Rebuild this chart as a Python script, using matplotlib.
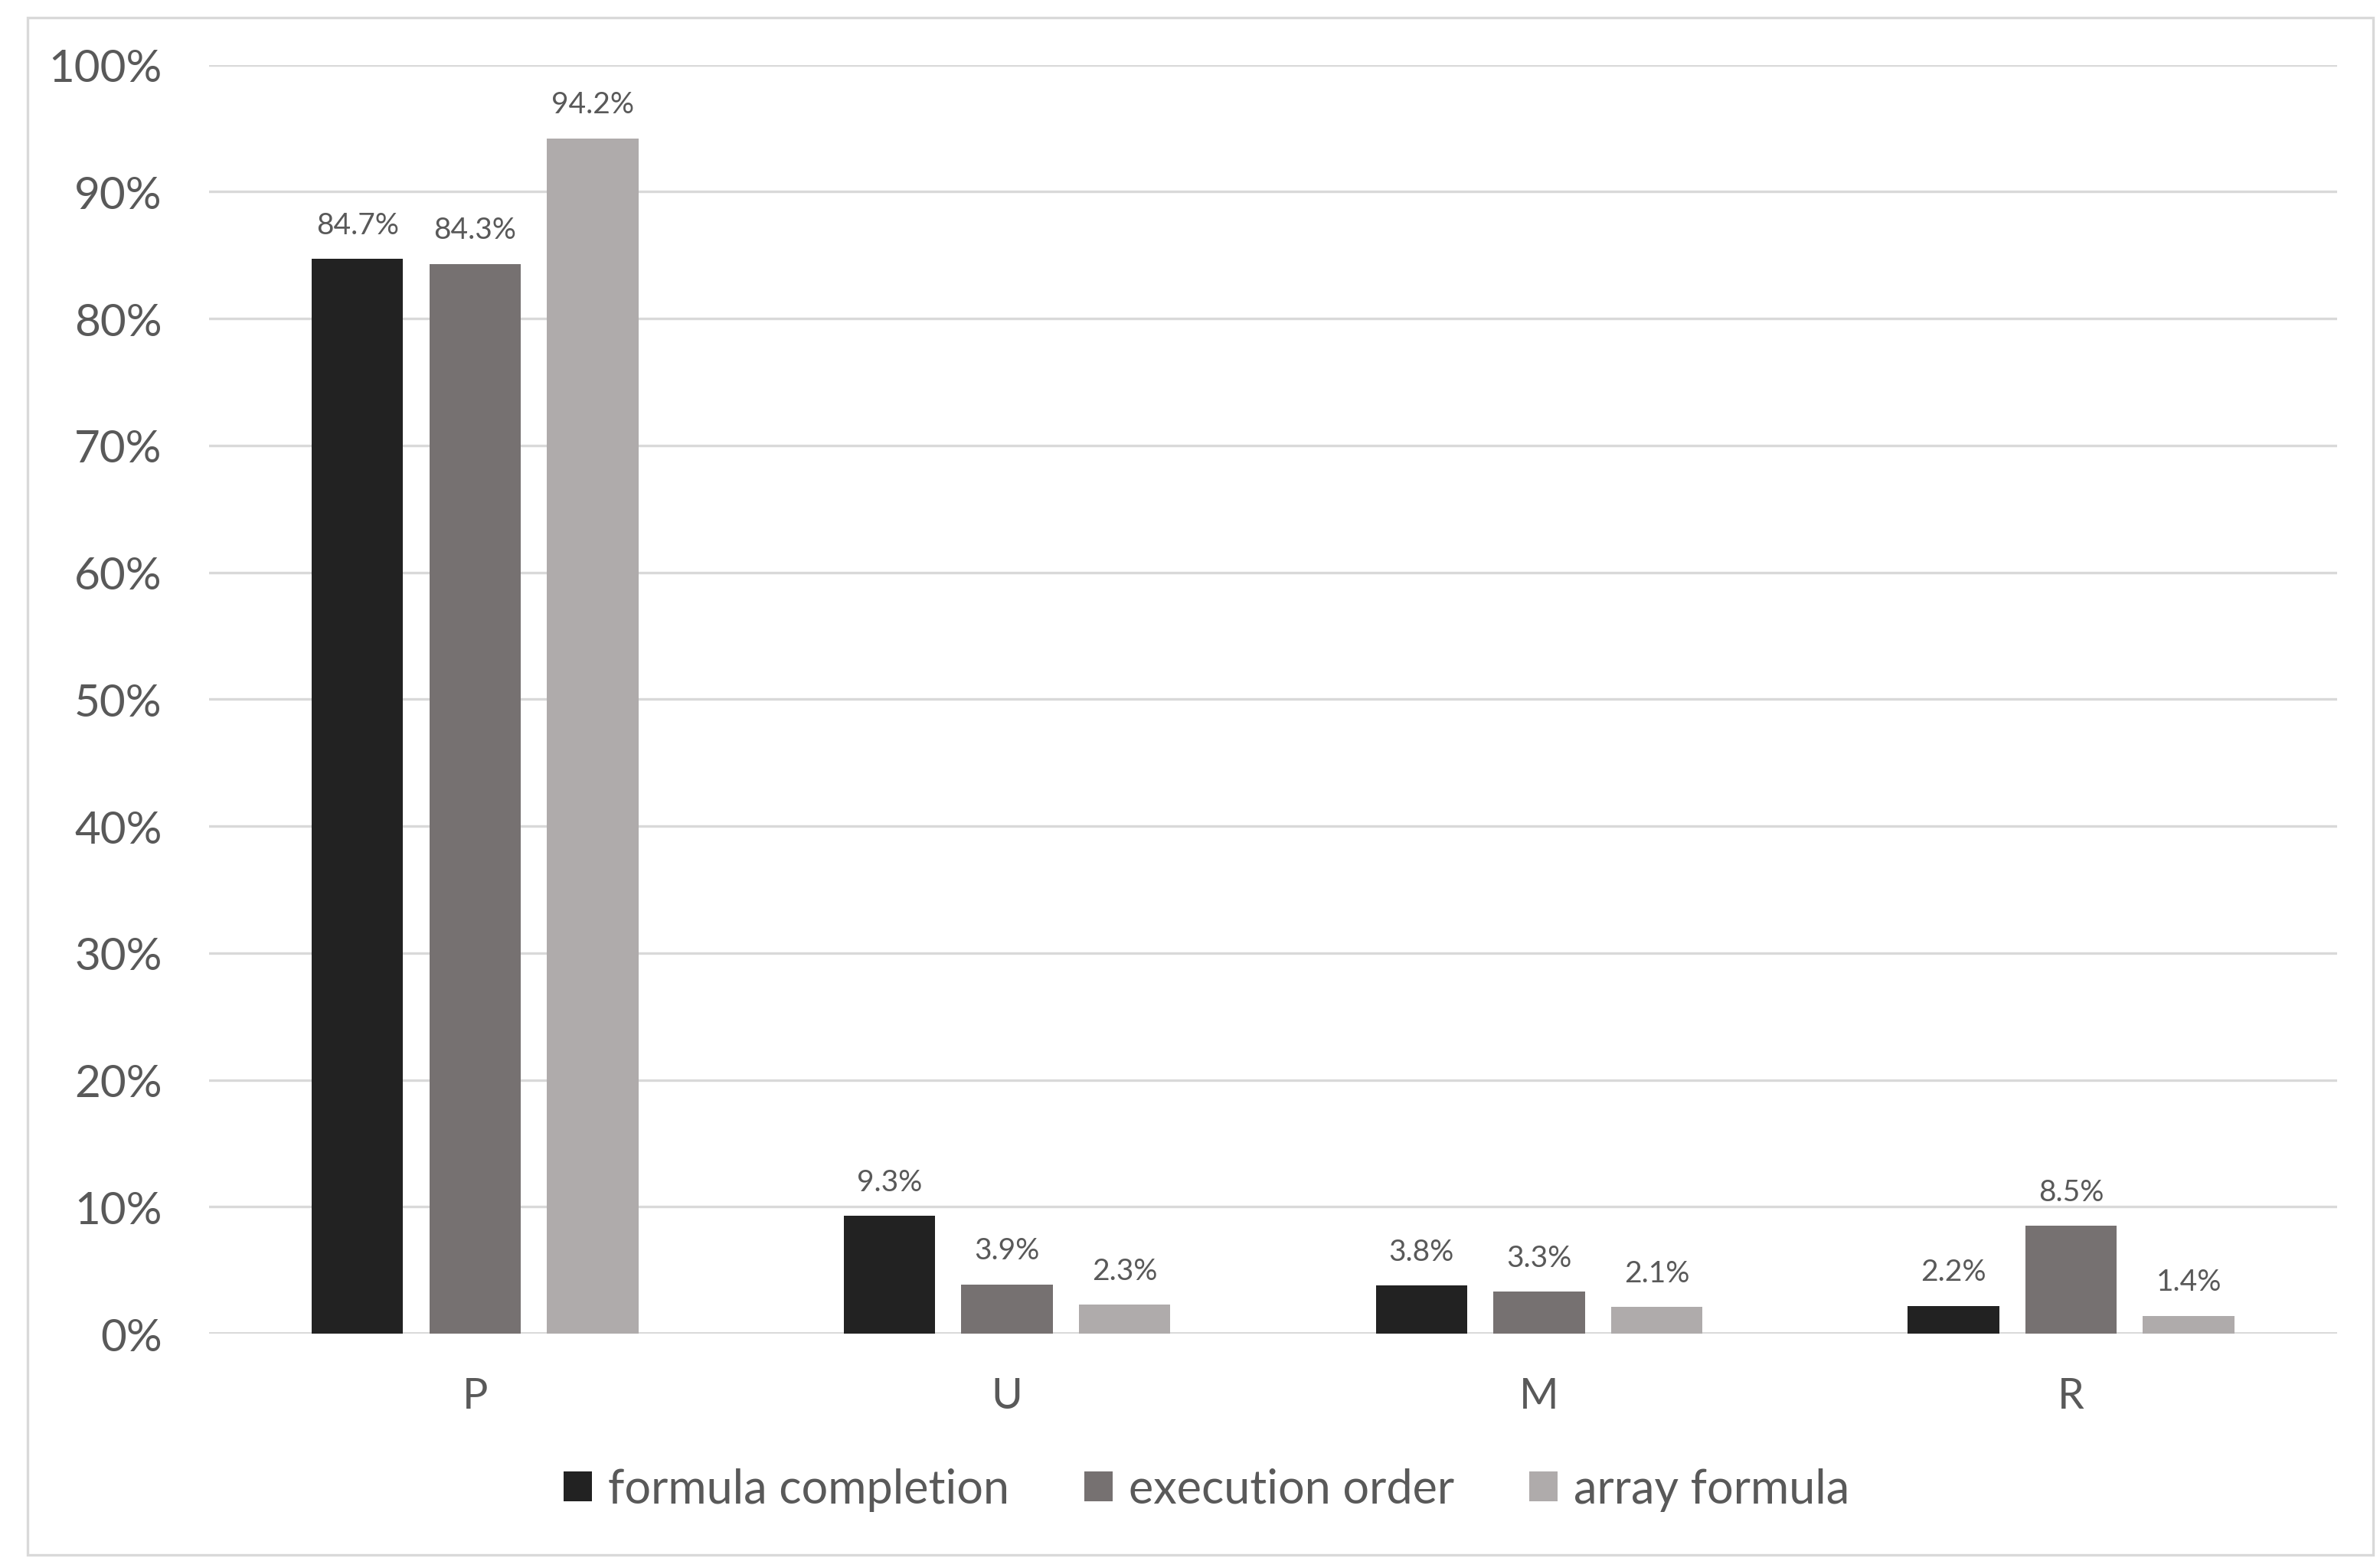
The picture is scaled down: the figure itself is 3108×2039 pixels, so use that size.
import matplotlib
matplotlib.use("Agg")
import matplotlib.pyplot as plt
from matplotlib.patches import Rectangle
from matplotlib.ticker import FuncFormatter, MultipleLocator
import numpy as np

categories = ["P", "U", "M", "R"]
series_names = ["formula completion", "execution order", "array formula"]
formula_completion = [84.7, 9.3, 3.8, 2.2]
execution_order = [84.3, 3.9, 3.3, 8.5]
array_formula = [94.2, 2.3, 2.1, 1.4]
colors = ["#222222", "#767171", "#AFABAB"]
text_color = "#595959"

plt.rcParams['font.family'] = ['Lato', 'DejaVu Sans']

fig = plt.figure(figsize=(15.54, 10.2), dpi=200)
fig.patches.append(Rectangle((0.0115, 0.004), 0.9855, 0.984, transform=fig.transFigure,
                             fill=False, edgecolor="#d9d9d9", linewidth=1.2))
ax = fig.add_axes([0.0878, 0.1455, 0.8942, 0.8125])

x = np.arange(len(categories))
width = 0.172
offset = 0.221
all_series = [formula_completion, execution_order, array_formula]
for i, (vals, name, c) in enumerate(zip(all_series, series_names, colors)):
    pos = x + (i - 1) * offset
    bars = ax.bar(pos, vals, width=width, color=c, label=name, zorder=3)
    for b, v in zip(bars, vals):
        ax.text(b.get_x() + b.get_width() / 2, v + 1.6, f"{v:.1f}%", ha="center", va="bottom",
                fontsize=14, color=text_color)

ax.set_xlim(-0.5, 3.5)
ax.set_ylim(0, 100)
ax.yaxis.set_major_locator(MultipleLocator(10))
ax.yaxis.set_major_formatter(FuncFormatter(lambda v, p: f"{v:.0f}%"))
ax.grid(axis="y", color="#d9d9d9", linewidth=1.2, zorder=0)
ax.set_axisbelow(True)
for s in ax.spines.values():
    s.set_visible(False)
ax.axhline(0, color="#d9d9d9", linewidth=1.4, zorder=2)
ax.set_xticks(x)
ax.set_xticklabels(categories)
ax.tick_params(axis="both", length=0, labelcolor=text_color)
ax.tick_params(axis="y", labelsize=21, pad=22)
ax.tick_params(axis="x", labelsize=20, pad=20)

leg = fig.legend(loc="center", bbox_to_anchor=(0.507, 0.046), ncol=3, frameon=False,
                 fontsize=22, handlelength=0.6, handleheight=0.6, handletextpad=0.35,
                 columnspacing=1.6, labelcolor=text_color)

fig.savefig("out.png", dpi=200)
